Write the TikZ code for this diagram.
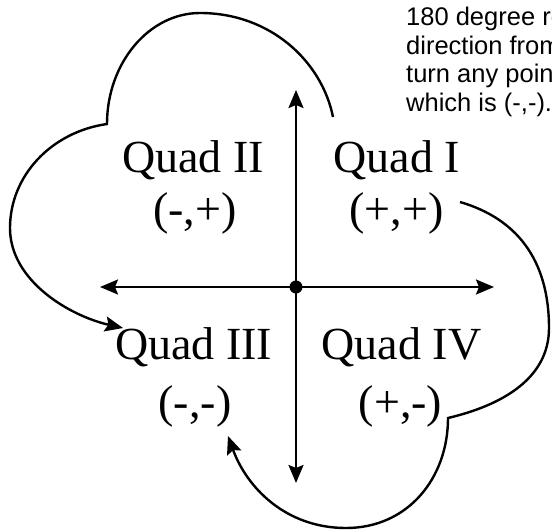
\documentclass[tikz,border=0pt]{standalone}
\usepackage{fontspec}
\setmainfont{Liberation Serif}
\newfontfamily\arialfont{Liberation Sans}
\usetikzlibrary{arrows.meta}
\begin{document}
\begin{tikzpicture}[x=1pt,y=-1pt,
  quad/.style={font=\fontsize{46}{54}\selectfont, inner sep=0pt, anchor=base},
  axis/.style={line width=2.4pt, {Stealth[length=18pt,width=15pt,inset=3pt]}-{Stealth[length=18pt,width=15pt,inset=3pt]}},
  turn/.style={line width=2.4pt, -{Stealth[length=18pt,width=15pt,inset=3pt]}},
  note/.style={font=\arialfont\fontsize{25.5}{28.5}\selectfont, align=left, inner sep=0pt, anchor=north west}]
\useasboundingbox (0,0) rectangle (552,531);
\begin{scope}
\clip (0,0) rectangle (552,531);
% axes
\coordinate (top) at (296,90);
\coordinate (bot) at (296,483);
\coordinate (lft) at (100,287);
\coordinate (rgt) at (494,287);
\draw[axis] (bot) -- (top);
\draw[axis] (lft) -- (rgt);
\node[circle, fill=black, minimum size=13pt, inner sep=0pt] (o) at (296,287) {};
% labels
\node[quad] (q2) at (193,172) {Quad II};
\node[quad] (q2c) at (195,224) {(-,+)};
\node[quad] (q1) at (397,172) {Quad I};
\node[quad] (q1c) at (396.5,224) {(+,+)};
\node[quad] (q3) at (193.7,359) {Quad III};
\node[quad] (q3c) at (195,417) {(-,-)};
\node[quad] (q4) at (401.5,359) {Quad IV};
\node[quad] (q4c) at (400.6,417) {(+,-)};
% rotation curves
\coordinate (s1) at (333,117);
\coordinate (e1) at (123,328);
\coordinate (s2) at (460,202);
\coordinate (e2) at (228,436);
\draw[turn] (s1) .. controls (322,62) and (271,13) .. (200,13)
  .. controls (149,13) and (107,63) .. (107,124)
  .. controls (51,132) and (10,176) .. (10,228)
  .. controls (10,281) and (70,316) .. (e1);
\draw[turn] (s2) .. controls (515,218) and (549,258) .. (549,328)
  .. controls (549,378) and (503,405) .. (448,418)
  .. controls (448,478) and (408,528) .. (346,528)
  .. controls (286,528) and (247,488) .. (e2);
% note text (cut at the right edge, as in the reference)
\node[note] (txt) at (406,7) {180 degree rotation\\direction from\\turn any point\\which is (-,-).};
\end{scope}
\end{tikzpicture}
\end{document}
